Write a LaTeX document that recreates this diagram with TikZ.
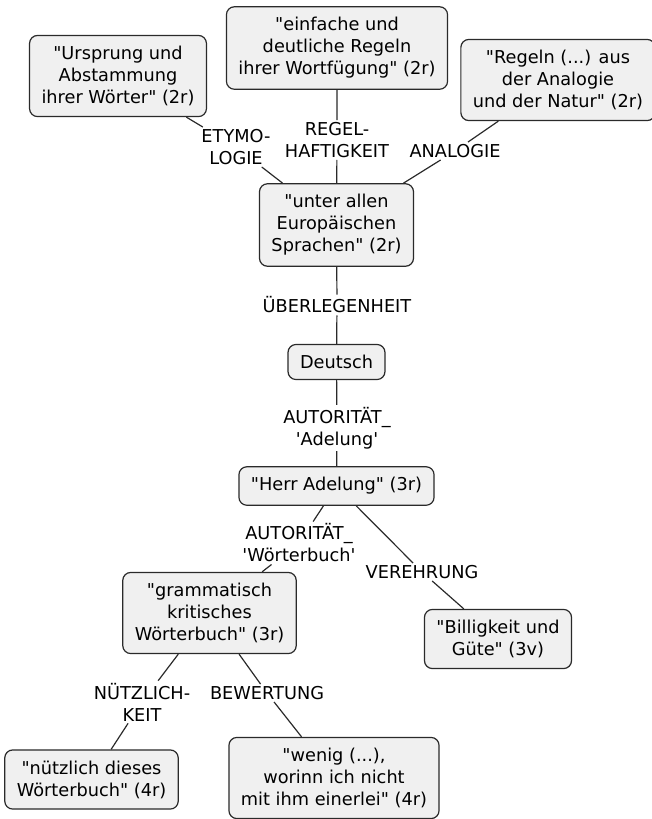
\documentclass[tikz,border=0pt]{standalone}
\usepackage{fontspec}
\newfontfamily\dejavu{DejaVu Sans}
\usepackage{tikz}
\usetikzlibrary{positioning}
\definecolor{boxgray}{HTML}{F0F0F0}
\definecolor{linegray}{HTML}{2A2A2A}

\begin{document}
\begin{tikzpicture}[
            x=0.75pt, y=-0.75pt,
            box/.style={rectangle, rounded corners=6pt, draw=linegray, fill=boxgray,
                        align=center, inner xsep=9pt, inner ysep=8pt, line width=0.9pt},
            lbl/.style={align=center, inner sep=1.5pt},
            every node/.style={font=\dejavu\fontsize{13.3pt}{16.5pt}\selectfont},
            conn/.style={draw=linegray, line width=0.9pt}
        ]
        \useasboundingbox (0,0) rectangle (651,819);
        % boxes
        \node[box] (urspr)  at (118,76)   {"Ursprung und\\Abstammung\\ihrer Wörter" (2r)};
        \node[box] (regeln) at (337,48)   {"einfache und\\deutliche Regeln\\ihrer Wortfügung" (2r)};
        \node[box] (anal)   at (558,80)   {"Regeln (...) aus\\der Analogie\\und der Natur" (2r)};
        \node[box] (europ)  at (336.5,225) {"unter allen\\Europäischen\\Sprachen" (2r)};
        \node[box] (deu)    at (336.5,362) {Deutsch};
        \node[box] (herr)   at (336.5,486) {"Herr Adelung" (3r)};
        \node[box] (gramm)  at (209.5,613) {"grammatisch\\kritisches\\Wörterbuch" (3r)};
        \node[box] (billig) at (498,639)  {"Billigkeit und\\Güte" (3v)};
        \node[box] (nuetz)  at (91.5,779.5) {"nützlich dieses\\Wörterbuch" (4r)};
        \node[box] (wenig)  at (334,778)  {"wenig (...),\\worinn ich nicht\\mit ihm einerlei" (4r)};
        % labels
        \node[lbl] (l-etym)  at (236,147) {ETYMO-\\LOGIE};
        \node[lbl] (l-regel) at (337,140) {REGEL-\\HAFTIGKEIT};
        \node[lbl] (l-anal)  at (455,151) {ANALOGIE};
        \node[lbl] (l-ueber) at (337,305) {ÜBERLEGENHEIT};
        \node[lbl] (l-autA)  at (337,428) {AUTORITÄT\_\\'Adelung'};
        \node[lbl] (l-autW)  at (299,543) {AUTORITÄT\_\\'Wörterbuch'};
        \node[lbl] (l-vereh) at (422,572) {VEREHRUNG};
        \node[lbl] (l-nuetz) at (142,702) {NÜTZLICH-\\KEIT};
        \node[lbl] (l-bew)   at (267,693) {BEWERTUNG};
        % connectors
        \draw[conn] (urspr) -- (l-etym) -- (europ);
        \draw[conn] (regeln) -- (l-regel) -- (europ);
        \draw[conn] (anal) -- (l-anal) -- (europ);
        \draw[conn] (europ) -- (l-ueber) -- (deu);
        \draw[conn] (deu) -- (l-autA) -- (herr);
        \draw[conn] (herr) -- (l-autW) -- (gramm);
        \draw[conn] (herr) -- (l-vereh) -- (billig);
        \draw[conn] (gramm) -- (l-nuetz) -- (nuetz);
        \draw[conn] (gramm) -- (l-bew) -- (wenig);
    \end{tikzpicture}
\end{document}
